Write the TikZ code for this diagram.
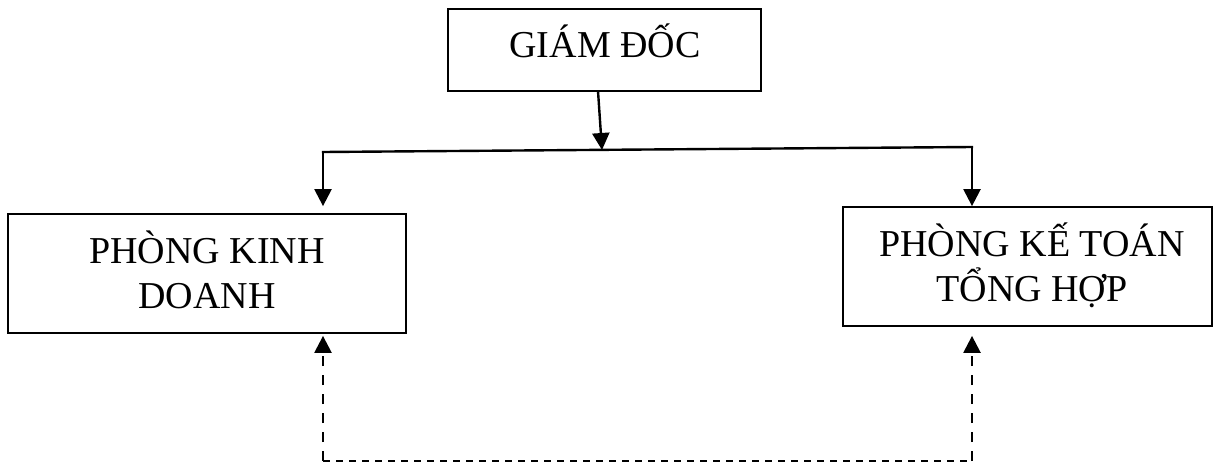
\documentclass[tikz,border=0pt]{standalone}
\usepackage{fontspec}
\setmainfont{Liberation Serif}
\usetikzlibrary{arrows.meta}
\begin{document}
\begin{tikzpicture}[x=1pt,y=-1pt,
  box/.style={draw=black,line width=1.8pt,inner sep=0pt},
  lbl/.style={font=\fontsize{38}{45}\selectfont,align=center,inner sep=0pt},
  conn/.style={line width=2.4pt},
  arr/.style={line width=2.4pt,-{Triangle[width=17pt,length=17pt]}},
  dhor/.style={line width=2.4pt,dash pattern=on 7pt off 6pt},
  darr/.style={line width=2.4pt,dash pattern=on 10pt off 9pt,-{Triangle[width=17pt,length=17pt]}}]
\useasboundingbox (0,0) rectangle (1220,463);
% boxes
\node[box,minimum width=313pt,minimum height=82pt] (gd) at (604.5,50) {};
\node[box,minimum width=398pt,minimum height=119pt] (pkd) at (207,273.5) {};
\node[box,minimum width=369pt,minimum height=119pt] (pkt) at (1027.5,266.5) {};
% texts
\node[lbl,anchor=base] (tgd) at (605,57) {GIÁM ĐỐC};
\node[lbl,anchor=base] (tkd) at (207,308) {PHÒNG KINH\\DOANH};
\node[lbl,anchor=base] (tkt) at (1032,301) {PHÒNG KẾ TOÁN\\TỔNG HỢP};
% connector points
\coordinate (gdout) at (598,91);
\coordinate (j) at (602,150);
\coordinate (jl) at (323,152);
\coordinate (jr) at (972,147);
\coordinate (bl) at (323,461);
\coordinate (br) at (972,461);
% solid connectors
\draw[arr] (gdout) -- (j);
\draw[conn,line cap=rect] (jl) -- (jr);
\draw[arr,shorten >=7pt] (jl) -- (jl |- pkd.north);
\draw[arr] (jr) -- (jr |- pkt.north);
% dashed connectors
\draw[dhor] (bl) -- (br);
\draw[darr,shorten >=2pt] (bl) -- (bl |- pkd.south);
\draw[darr,shorten >=9pt] (br) -- (br |- pkt.south);
\end{tikzpicture}
\end{document}
